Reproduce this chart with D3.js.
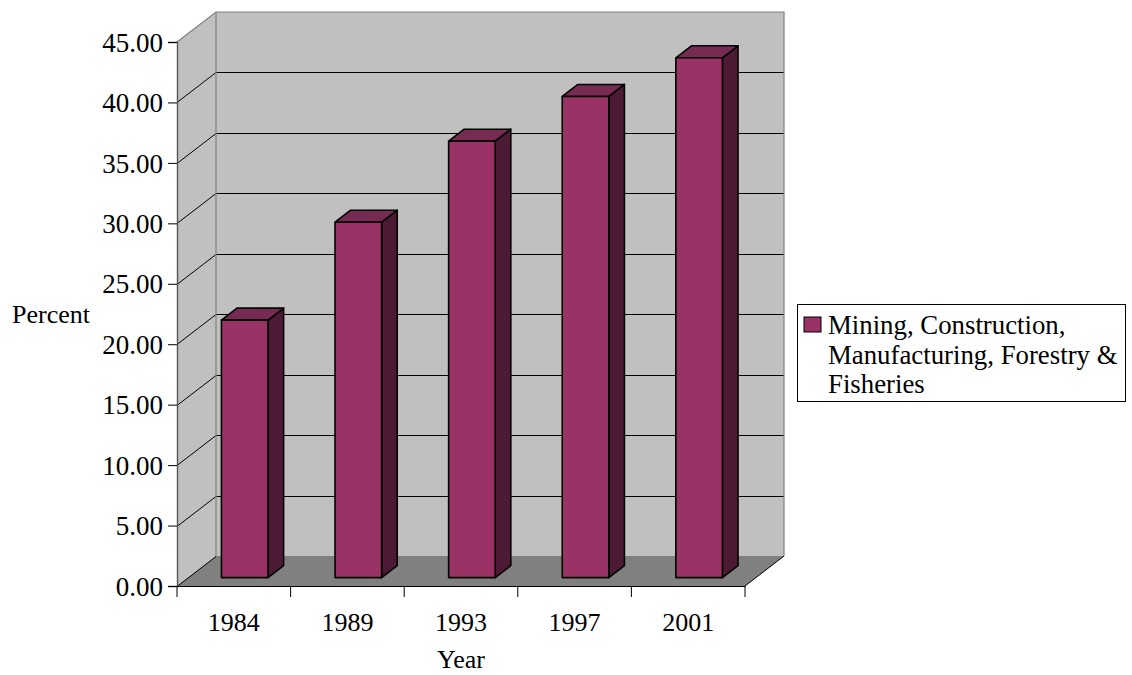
<!DOCTYPE html>
<html>
<head>
<meta charset="utf-8">
<script src="https://cdn.jsdelivr.net/npm/d3@7"></script>
<style>
  html, body { margin: 0; padding: 0; background: #fff; }
  svg text { font-family: "Liberation Serif", "Times New Roman", serif; fill: #000; }
</style>
</head>
<body>
<svg id="chart" width="1132" height="675"></svg>
<script>
// Share of employment by year
const years = ["1984", "1989", "1993", "1997", "2001"];
const values = [21.3, 29.4, 36.1, 39.8, 43.0];
const yTicks = [0, 5, 10, 15, 20, 25, 30, 35, 40, 45];
const seriesName = ["Mining, Construction,", "Manufacturing, Forestry &", "Fisheries"];

const svg = d3.select("#chart");
const fontSize = 26;

// front plane of the plot box
const x = d3.scaleBand().domain(years).range([177, 745]);
const y = d3.scaleLinear().domain([0, 45]).range([586, 42]);

// depth offset from the front plane to the back wall
const depthX = 39, depthY = -30;
const P = (px, py, d) => [px + d * depthX, py + d * depthY];

const line = d3.line();

// back wall
const bw = [P(x.range()[0], y(45), 1), P(x.range()[1], y(45), 1), P(x.range()[1], y(0), 1), P(x.range()[0], y(0), 1)];
svg.append("path").attr("d", line(bw) + "Z").attr("fill", "#c0c0c0").attr("stroke", "none");

// side wall
const sw = [P(x.range()[0], y(45), 0), P(x.range()[0], y(45), 1), P(x.range()[0], y(0), 1), P(x.range()[0], y(0), 0)];
svg.append("path").attr("d", line(sw) + "Z").attr("fill", "#c0c0c0").attr("stroke", "none");

// floor
const fl = [P(x.range()[0], y(0), 0), P(x.range()[1], y(0), 0), P(x.range()[1], y(0), 1), P(x.range()[0], y(0), 1)];
svg.append("path").attr("d", line(fl) + "Z").attr("fill", "#808080").attr("stroke", "none");

// gridlines on the walls
const grid = svg.append("g").attr("stroke", "#000").attr("stroke-width", 1).attr("fill", "none");
yTicks.filter(t => t < 45).forEach(t => {
  const yy = Math.round(y(t)) + 0.5;
  if (t > 0) {
    grid.append("path").attr("d", line([P(x.range()[0], yy, 1), P(x.range()[1], yy, 1)]));
  }
  grid.append("path").attr("d", line([P(x.range()[0], yy, 0), P(x.range()[0], yy, 1)]));
});

// wall borders
const border = svg.append("g").attr("stroke", "#808080").attr("stroke-width", 1.2).attr("fill", "none");
border.append("path").attr("d", line([P(x.range()[0], y(45), 0), P(x.range()[0], y(45), 1), P(x.range()[1], y(45), 1), P(x.range()[1], y(0), 1)]));
border.append("path").attr("d", line([P(x.range()[0], y(45), 1), P(x.range()[0], y(0), 1)]));
svg.append("path").attr("d", line([P(x.range()[1], y(0), 0), P(x.range()[1], y(0), 1)]))
  .attr("stroke", "#000").attr("stroke-width", 1).attr("fill", "none");

// 3D columns
const dFront = 0.28, dBack = 0.68;
const barW = x.bandwidth() * 0.41;
const bars = svg.append("g").attr("stroke", "#000").attr("stroke-width", 1.6).attr("stroke-linejoin", "round");
years.forEach((yr, i) => {
  const cx = x(yr) + x.bandwidth() / 2;
  const l = cx - barW / 2, r = cx + barW / 2;
  const top = y(values[i]), bot = y(0);
  const front = [P(l, top, dFront), P(r, top, dFront), P(r, bot, dFront), P(l, bot, dFront)];
  const side = [P(r, top, dFront), P(r, top, dBack), P(r, bot, dBack), P(r, bot, dFront)];
  const cap = [P(l, top, dFront), P(l, top, dBack), P(r, top, dBack), P(r, top, dFront)];
  bars.append("path").attr("d", line(side) + "Z").attr("fill", "#4d1a35");
  bars.append("path").attr("d", line(cap) + "Z").attr("fill", "#772a52");
  bars.append("path").attr("d", line(front) + "Z").attr("fill", "#993366");
});

// value axis
const yAxis = svg.append("g")
  .attr("transform", "translate(" + x.range()[0] + ",0)")
  .call(d3.axisLeft(y).tickValues(yTicks).tickFormat(d3.format(".2f")).tickSize(9).tickPadding(5));
yAxis.select(".domain").attr("stroke", "#555").attr("stroke-width", 1.4);
yAxis.selectAll(".tick line").attr("stroke", "#000");
yAxis.selectAll("text").attr("font-size", 27).attr("font-family", "Liberation Serif").attr("dy", "0.34em");

// category axis
const xAxis = svg.append("g").attr("transform", "translate(0," + y(0) + ")")
  .call(d3.axisBottom(x).tickSize(0).tickPadding(27));
xAxis.select(".domain").attr("stroke", "#000").attr("stroke-width", 1.2);
xAxis.selectAll("text").attr("font-size", fontSize).attr("font-family", "Liberation Serif");
const bounds = years.map(d => x(d)).concat([x.range()[1]]);
xAxis.selectAll("line.bound").data(bounds).enter().append("line")
  .attr("class", "bound")
  .attr("x1", d => d).attr("x2", d => d)
  .attr("y1", 0).attr("y2", 11)
  .attr("stroke", "#000").attr("stroke-width", 1);

// axis titles
svg.append("text").attr("x", 51).attr("y", 323).attr("text-anchor", "middle")
  .attr("font-size", fontSize).text("Percent");
svg.append("text").attr("x", 461).attr("y", 668).attr("text-anchor", "middle")
  .attr("font-size", fontSize).text("Year");

// legend
const lg = svg.append("g");
lg.append("rect").attr("x", 797.5).attr("y", 304.5).attr("width", 328).attr("height", 97)
  .attr("fill", "#fff").attr("stroke", "#000").attr("stroke-width", 1);
lg.append("rect").attr("x", 804).attr("y", 317).attr("width", 17).attr("height", 15)
  .attr("fill", "#993366").attr("stroke", "#000").attr("stroke-width", 1);
lg.selectAll("text.item").data(seriesName).enter().append("text")
  .attr("class", "item")
  .attr("x", 828).attr("y", (d, i) => 334 + i * 29.5)
  .attr("font-size", 26.8).text(d => d);
</script>
</body>
</html>
